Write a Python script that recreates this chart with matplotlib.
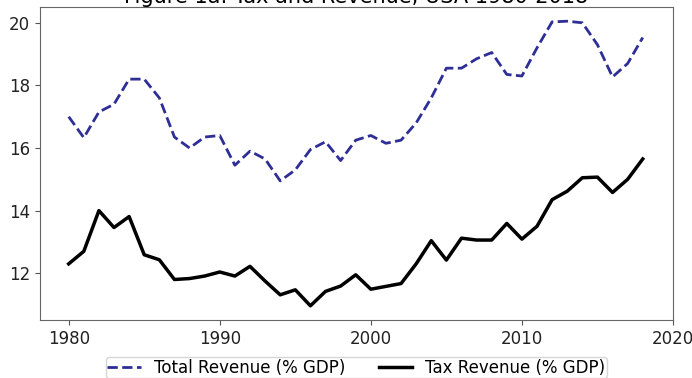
import matplotlib
matplotlib.use("Agg")
import matplotlib.pyplot as plt

# Revenue series, % of GDP
years = list(range(1980, 2019))
total_revenue = [17.0, 16.33, 17.15, 17.4, 18.2, 18.2, 17.6, 16.35, 16.0, 16.35,
                 16.4, 15.45, 15.9, 15.65, 14.95, 15.3, 15.95, 16.2, 15.6, 16.25,
                 16.4, 16.15, 16.25, 16.8, 17.6, 18.55, 18.55, 18.85, 19.05, 18.35,
                 18.3, 19.2, 20.03, 20.05, 20.0, 19.3, 18.27, 18.7, 19.53]
tax_revenue = [12.3, 12.7, 14.0, 13.46, 13.81, 12.59, 12.43, 11.8, 11.83, 11.91,
               12.04, 11.91, 12.22, 11.75, 11.31, 11.47, 10.96, 11.42, 11.59, 11.95,
               11.49, 11.58, 11.67, 12.3, 13.04, 12.42, 13.12, 13.06, 13.06, 13.59,
               13.09, 13.5, 14.35, 14.62, 15.05, 15.07, 14.58, 15.0, 15.65]

fig = plt.figure(figsize=(6.92, 3.78), dpi=100)
ax = fig.add_axes([0.0578, 0.1534, 0.9147, 0.8281])

ax.plot(years, total_revenue, linestyle='--', color='#2e2e96', linewidth=2,
        label='Total Revenue (% GDP)')
ax.plot(years, tax_revenue, linestyle='-', color='black', linewidth=2.5,
        label='Tax Revenue (% GDP)')

ax.set_title('Figure 1a: Tax and Revenue, USA 1980-2018', fontsize=15, pad=2)
ax.set_xticks([1980, 1990, 2000, 2010, 2020])
ax.set_yticks([12, 14, 16, 18, 20])
ax.tick_params(axis='both', labelsize=12, colors='#555555', labelcolor='#222222')
for spine in ax.spines.values():
    spine.set_color('#666666')

# legend sits under the axes, two entries side by side
ax.legend(loc='upper center', bbox_to_anchor=(0.5, -0.118), borderaxespad=0,
          borderpad=0.1, ncol=2, fontsize=12)

fig.savefig('out.png', dpi=100)
